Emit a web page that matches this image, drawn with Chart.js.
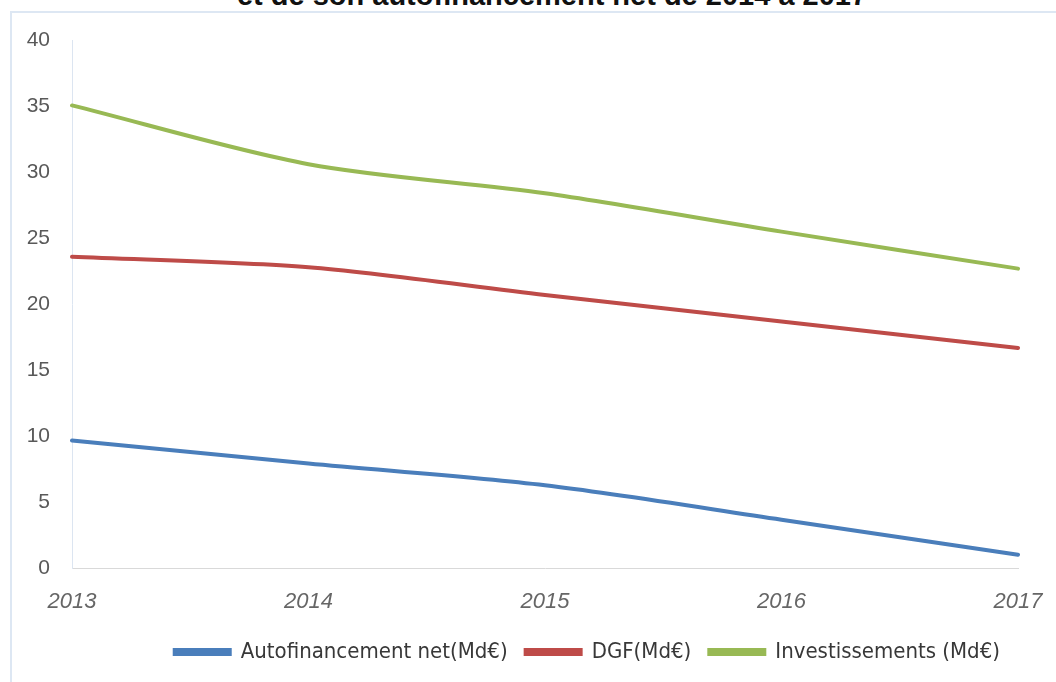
<!DOCTYPE html>
<html>
<head>
<meta charset="utf-8">
<script src="https://cdn.jsdelivr.net/npm/chart.js@4/dist/chart.umd.min.js"></script>
<style>
    html, body { margin: 0; padding: 0; background: #fff; overflow: hidden; }
    body { width: 1056px; height: 682px; position: relative; }
    #frame {
        position: absolute; left: 10px; top: 11px; right: -5px; bottom: -5px;
        border-left: 2px solid #dde7f3; border-top: 2px solid #dde7f3;
    }
    #title {
        position: absolute; left: 0; width: 1104px; top: -21px;
        text-align: center; line-height: 29px;
        font: bold 29px 'Liberation Sans', Arial, sans-serif; color: #111;
    }
    #wrap { position: absolute; left: 0; top: 0; width: 1056px; height: 682px; }
</style>
</head>
<body>
<div id="frame"></div>
<div id="title">et de son autofinancement net de 2014 à 2017</div>
<div id="wrap"><canvas id="lineChart"></canvas></div>
<script>
// Données
const years = ['2013', '2014', '2015', '2016', '2017'];
const autofinancement = [9.7, 7.95, 6.3, 3.7, 1.05];
const dgf = [23.6, 22.8, 20.7, 18.7, 16.7];
const investissements = [35.05, 30.6, 28.4, 25.5, 22.7];
const yTicks = [0, 5, 10, 15, 20, 25, 30, 35, 40];

const narrow = "'Liberation Sans Narrow', 'DejaVu Sans Condensed', sans-serif";

function makeSet(label, data, color) {
    return {
        label: label,
        data: data,
        borderColor: color,
        backgroundColor: color,
        borderWidth: 4,
        pointRadius: 0,
        tension: 0.3,
        borderCapStyle: 'round'
    };
}

const ctx = document.getElementById('lineChart').getContext('2d');
new Chart(ctx, {
    type: 'line',
    data: {
        labels: years,
        datasets: [
            makeSet('Autofinancement net(Md€)', autofinancement, '#4a7ebb'),
            makeSet('DGF(Md€)', dgf, '#be4b48'),
            makeSet('Investissements (Md€)', investissements, '#98b954')
        ]
    },
    options: {
        responsive: true,
        maintainAspectRatio: false,
        animation: false,
        layout: { padding: { left: 0, right: 38, top: 40, bottom: 9 } },
        plugins: {
            title: { display: false },
            tooltip: { enabled: false },
            legend: {
                position: 'bottom',
                align: 'end',
                labels: {
                    boxWidth: 55,
                    boxHeight: 4,
                    padding: 18,
                    color: '#383838',
                    font: { family: narrow, size: 22 }
                }
            }
        },
        scales: {
            x: {
                // axe plus court: le texte de la légende remonte vers les années
                afterFit: function(scale) {
                    scale.height = scale.height - 12;
                    scale.paddingRight = 0;
                },
                grid: { display: true, drawOnChartArea: false, drawTicks: false },
                border: { color: '#d9d9d9', width: 1 },
                ticks: {
                    padding: 20,
                    maxRotation: 0,
                    color: '#666',
                    font: { family: 'Liberation Sans, sans-serif', size: 22, style: 'italic' }
                }
            },
            y: {
                min: 0,
                max: 40,
                afterFit: function(scale) { scale.width = 72; },
                afterBuildTicks: function(scale) {
                    scale.ticks = yTicks.map(v => ({ value: v }));
                },
                grid: { display: true, drawOnChartArea: false, drawTicks: false },
                border: { color: '#dce5f1', width: 1 },
                ticks: {
                    padding: 22,
                    color: '#595959',
                    font: { family: 'Liberation Sans, sans-serif', size: 21 }
                }
            }
        }
    }
});
</script>
</body>
</html>
